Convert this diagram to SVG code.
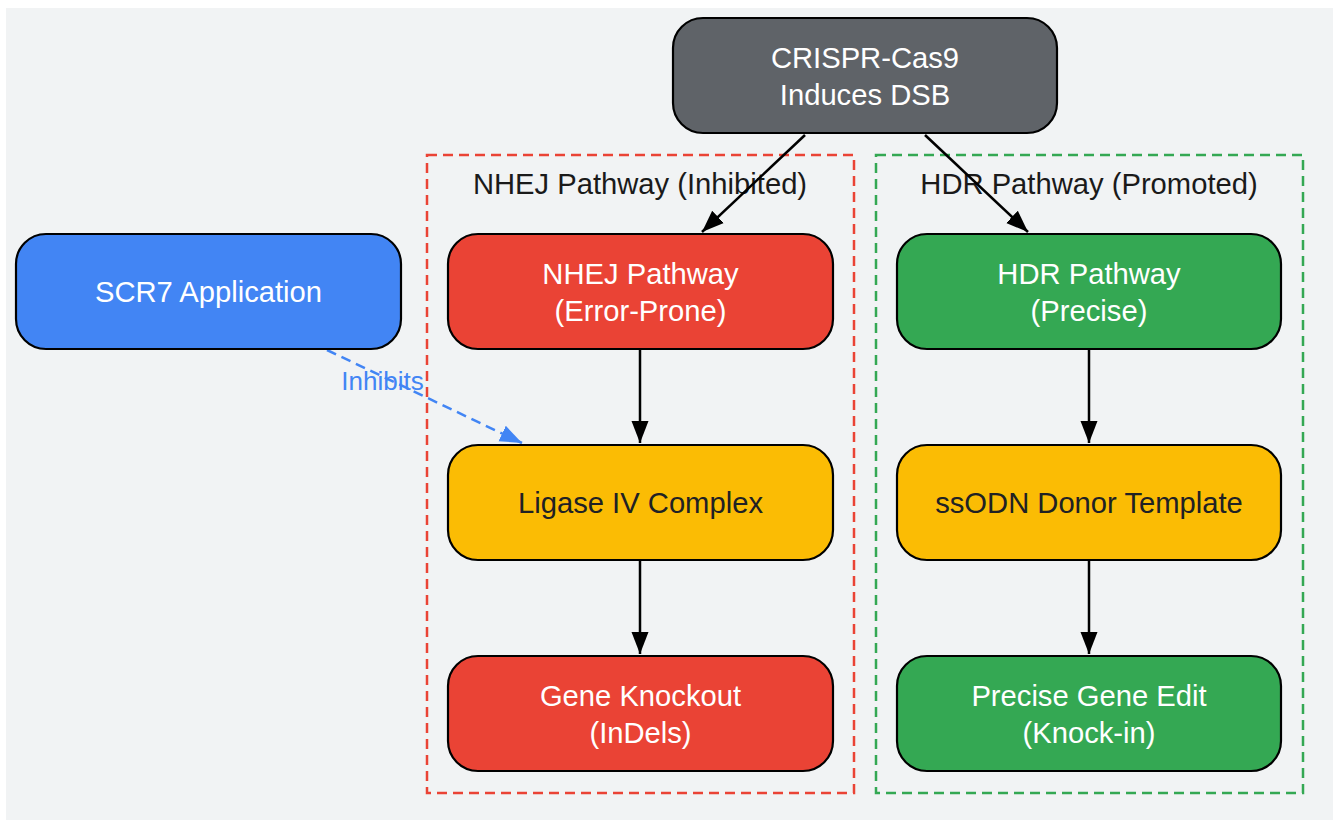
<svg xmlns="http://www.w3.org/2000/svg" width="1333" height="820" viewBox="0 0 1333 820">
<style>
.n{stroke:#000;stroke-width:2.2}
.t{font-family:"Liberation Sans",Arial,sans-serif;font-size:29.2px;text-anchor:middle}
.w{fill:#fff}
.d{fill:#202124}
.cl{fill:none;stroke-width:2.5;stroke-dasharray:10,6}
.e{stroke:#000;stroke-width:2.5;fill:none}
</style>
<defs>
<marker id="ab" viewBox="0 0 22 20" refX="22" refY="10" markerWidth="22" markerHeight="20" markerUnits="userSpaceOnUse" orient="auto">
<path d="M0,1.5 L22,10 L0,18.5 z" fill="#4285F4"/>
</marker>
<marker id="ak" viewBox="0 0 22 20" refX="22" refY="10" markerWidth="22" markerHeight="20" markerUnits="userSpaceOnUse" orient="auto">
<path d="M0,1.5 L22,10 L0,18.5 z" fill="#000"/>
</marker>
</defs>
<rect x="6" y="8" width="1327" height="812" fill="#F1F3F4"/>
<g id="cluster-nhej">
<rect class="cl" x="427" y="155" width="427" height="638" stroke="#EA4335"/>
<text class="t" x="640" y="194" fill="#1a1a1a">NHEJ Pathway (Inhibited)</text>
</g>
<g id="cluster-hdr">
<rect class="cl" x="876" y="155" width="427" height="638" stroke="#34A853"/>
<text class="t" x="1089" y="194" fill="#1a1a1a">HDR Pathway (Promoted)</text>
</g>
<g id="connectors">
<path class="e" d="M805,135 L702,232" marker-end="url(#ak)"/>
<path class="e" d="M925,135 L1028,232" marker-end="url(#ak)"/>
<path class="e" d="M640,349 L640,443" marker-end="url(#ak)"/>
<path class="e" d="M640,560 L640,654" marker-end="url(#ak)"/>
<path class="e" d="M1089,349 L1089,443" marker-end="url(#ak)"/>
<path class="e" d="M1089,560 L1089,654" marker-end="url(#ak)"/>
<path d="M327,350 L522,443" stroke="#4285F4" stroke-width="2.5" stroke-dasharray="10,6" fill="none" marker-end="url(#ab)"/>
<text x="382.5" y="390" font-family="Liberation Sans,Arial,sans-serif" font-size="26" text-anchor="middle" fill="#4285F4">Inhibits</text>
</g>
<g id="crispr">
<rect class="n" x="673" y="18" width="384" height="115" rx="30" fill="#5F6368"/>
<text class="t w" x="865" y="68">CRISPR-Cas9</text>
<text class="t w" x="865" y="104.5">Induces DSB</text>
</g>
<g id="scr7">
<rect class="n" x="16" y="234" width="385" height="115" rx="30" fill="#4285F4"/>
<text class="t w" x="208.5" y="301.5">SCR7 Application</text>
</g>
<g id="nhej">
<rect class="n" x="448" y="234" width="385" height="115" rx="30" fill="#EA4335"/>
<text class="t w" x="640.5" y="284">NHEJ Pathway</text>
<text class="t w" x="640.5" y="320.5">(Error-Prone)</text>
</g>
<g id="hdr">
<rect class="n" x="897" y="234" width="384" height="115" rx="30" fill="#34A853"/>
<text class="t w" x="1089" y="284">HDR Pathway</text>
<text class="t w" x="1089" y="320.5">(Precise)</text>
</g>
<g id="ligase">
<rect class="n" x="448" y="445" width="385" height="115" rx="30" fill="#FBBC04"/>
<text class="t d" x="640.5" y="512.5">Ligase IV Complex</text>
</g>
<g id="ssodn">
<rect class="n" x="897" y="445" width="384" height="115" rx="30" fill="#FBBC04"/>
<text class="t d" x="1089" y="512.5">ssODN Donor Template</text>
</g>
<g id="knockout">
<rect class="n" x="448" y="656" width="385" height="115" rx="30" fill="#EA4335"/>
<text class="t w" x="640.5" y="706">Gene Knockout</text>
<text class="t w" x="640.5" y="742.5">(InDels)</text>
</g>
<g id="precise">
<rect class="n" x="897" y="656" width="384" height="115" rx="30" fill="#34A853"/>
<text class="t w" x="1089" y="706">Precise Gene Edit</text>
<text class="t w" x="1089" y="742.5">(Knock-in)</text>
</g>
</svg>
